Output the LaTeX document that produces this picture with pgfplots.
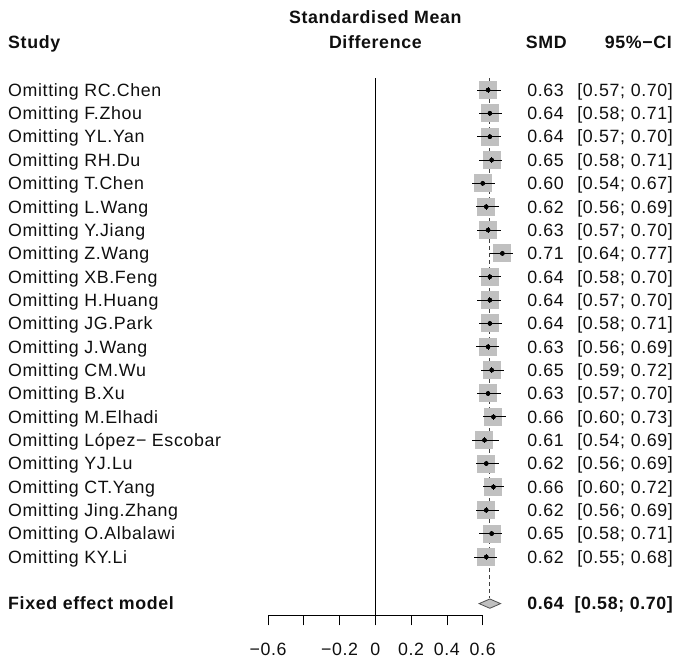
\documentclass[border=0pt]{standalone}
\usepackage{fontspec}
\setmainfont{Liberation Sans}[LetterSpace=3.5]
\usepackage{pgfplots}
\usepackage{pgfplotstable}
\pgfplotsset{compat=1.18}
\definecolor{sqgray}{RGB}{192,192,192}
\definecolor{txt}{RGB}{15,15,15}
\newcommand\ff{\fontsize{17.8bp}{21bp}\selectfont}

\pgfplotstableread[col sep=comma]{
row,smd,lo,hi,label,smdt,cilo,cihi
1,0.63,0.57,0.70,Omitting RC.Chen,0.63,0.57,0.70
2,0.64,0.58,0.71,Omitting F.Zhou,0.64,0.58,0.71
3,0.64,0.57,0.70,Omitting YL.Yan,0.64,0.57,0.70
4,0.65,0.58,0.71,Omitting RH.Du,0.65,0.58,0.71
5,0.60,0.54,0.67,Omitting T.Chen,0.60,0.54,0.67
6,0.62,0.56,0.69,Omitting L.Wang,0.62,0.56,0.69
7,0.63,0.57,0.70,Omitting Y.Jiang,0.63,0.57,0.70
8,0.71,0.64,0.77,Omitting Z.Wang,0.71,0.64,0.77
9,0.64,0.58,0.70,Omitting XB.Feng,0.64,0.58,0.70
10,0.64,0.57,0.70,Omitting H.Huang,0.64,0.57,0.70
11,0.64,0.58,0.71,Omitting JG.Park,0.64,0.58,0.71
12,0.63,0.56,0.69,Omitting J.Wang,0.63,0.56,0.69
13,0.65,0.59,0.72,Omitting CM.Wu,0.65,0.59,0.72
14,0.63,0.57,0.70,Omitting B.Xu,0.63,0.57,0.70
15,0.66,0.60,0.73,Omitting M.Elhadi,0.66,0.60,0.73
16,0.61,0.54,0.69,Omitting López− Escobar,0.61,0.54,0.69
17,0.62,0.56,0.69,Omitting YJ.Lu,0.62,0.56,0.69
18,0.66,0.60,0.72,Omitting CT.Yang,0.66,0.60,0.72
19,0.62,0.56,0.69,Omitting Jing.Zhang,0.62,0.56,0.69
20,0.65,0.58,0.71,Omitting O.Albalawi,0.65,0.58,0.71
21,0.62,0.55,0.68,Omitting KY.Li,0.62,0.55,0.68
}\studies

\begin{document}
\begin{tikzpicture}
\begin{axis}[
  scale only axis,
  width=214.7bp, height=537bp,
  xmin=-0.6, xmax=0.6,
  ymin=-23.5, ymax=-0.5,
  clip=false,
  axis x line=bottom,
  axis y line=none,
  axis line style={-, black, line width=0.8pt},
  xtick={-0.6,-0.4,-0.2,0,0.2,0.4,0.6},
  xticklabels={−0.6,,−0.2,0,0.2,0.4,0.6},
  xtick align=outside,
  major tick length=10bp,
  xtick style={black, line width=0.8pt},
  xticklabel style={font=\ff, text=txt, anchor=north, inner sep=0pt, yshift=-18bp},
  every node near coord/.append style={font=\ff, text=txt, inner sep=0pt},
]
% zero line
\addplot[black, line width=0.8pt] coordinates {(0,-0.5) (0,-23.5)};
% fixed-effect dashed line
\addplot[black!75, line width=0.8pt, dash pattern=on 3.5bp off 3.5bp] coordinates {(0.64,-0.5) (0.64,-22.75)};
% squares (thick error bars of fixed half-width, 18bp tall)
\addplot[only marks, mark=none, error bars/.cd, x dir=both, x fixed=0.0503,
  error bar style={draw=sqgray, line width=18bp, line cap=butt}, error mark=none]
  table[x=smd, y expr=-\thisrow{row}] {\studies};
% confidence intervals
\addplot[only marks, mark=none, error bars/.cd, x dir=both, x explicit,
  error bar style={draw=black, line width=0.8pt}, error mark=none]
  table[x=smd, y expr=-\thisrow{row},
        x error plus expr=\thisrow{hi}-\thisrow{smd},
        x error minus expr=\thisrow{smd}-\thisrow{lo}] {\studies};
% centre ticks
\addplot[only marks, mark=|, mark size=2.8bp, mark options={draw=black, line width=1pt}]
  table[x=smd, y expr=-\thisrow{row}] {\studies};
% diamond (fixed effect)
\addplot[fill=sqgray, draw=black!70, line width=0.8pt] coordinates {(0.58,-23) (0.64,-22.8) (0.70,-23) (0.64,-23.2)} -- cycle;
% text columns
\addplot[draw=none, mark=none, nodes near coords, point meta=explicit symbolic,
  nodes near coords style={anchor=base west, yshift=-6.3bp}]
  table[x expr=-2.053, y expr=-\thisrow{row}, meta=label] {\studies};
\addplot[draw=none, mark=none, nodes near coords, point meta=explicit symbolic,
  nodes near coords style={anchor=base east, yshift=-6.3bp}]
  table[x expr=1.0545, y expr=-\thisrow{row}, meta=smdt] {\studies};
\addplot[draw=none, mark=none, point meta=explicit symbolic,
  nodes near coords={[\pgfplotspointmeta;},
  nodes near coords style={anchor=base west, yshift=-6.3bp}]
  table[x expr=1.128, y expr=-\thisrow{row}, meta=cilo] {\studies};
\addplot[draw=none, mark=none, point meta=explicit symbolic,
  nodes near coords={\pgfplotspointmeta]},
  nodes near coords style={anchor=base east, yshift=-6.3bp}]
  table[x expr=1.664, y expr=-\thisrow{row}, meta=cihi] {\studies};
% headers and summary row
\node[font=\ff\bfseries, text=txt, anchor=base, inner sep=0pt] at (axis cs:0,1.83) {Standardised Mean};
\node[font=\ff\bfseries, text=txt, anchor=base, inner sep=0pt] at (axis cs:0,0.756) {Difference};
\node[font=\ff\bfseries, text=txt, anchor=base west, inner sep=0pt] at (axis cs:-2.053,0.756) {Study};
\node[font=\ff\bfseries, text=txt, anchor=base east, inner sep=0pt] at (axis cs:1.071,0.756) {SMD};
\node[font=\ff\bfseries, text=txt, anchor=base east, inner sep=0pt] at (axis cs:1.658,0.756) {95\%−CI};
\node[font=\ff\bfseries, text=txt, anchor=base west, inner sep=0pt, yshift=-6.3bp] at (axis cs:-2.053,-23) {Fixed effect model};
\node[font=\ff\bfseries, text=txt, anchor=base east, inner sep=0pt, yshift=-6.3bp] at (axis cs:1.0545,-23) {0.64};
\node[font=\ff\bfseries, text=txt, anchor=base east, inner sep=0pt, yshift=-6.3bp] at (axis cs:1.664,-23) {[0.58; 0.70]};
\coordinate (bbnw) at (axis cs:-2.098,2.854);
\coordinate (bbse) at (axis cs:1.686,-25.45);
\end{axis}
\pgfresetboundingbox
\useasboundingbox (bbnw) rectangle (bbse);
\end{tikzpicture}
\end{document}
